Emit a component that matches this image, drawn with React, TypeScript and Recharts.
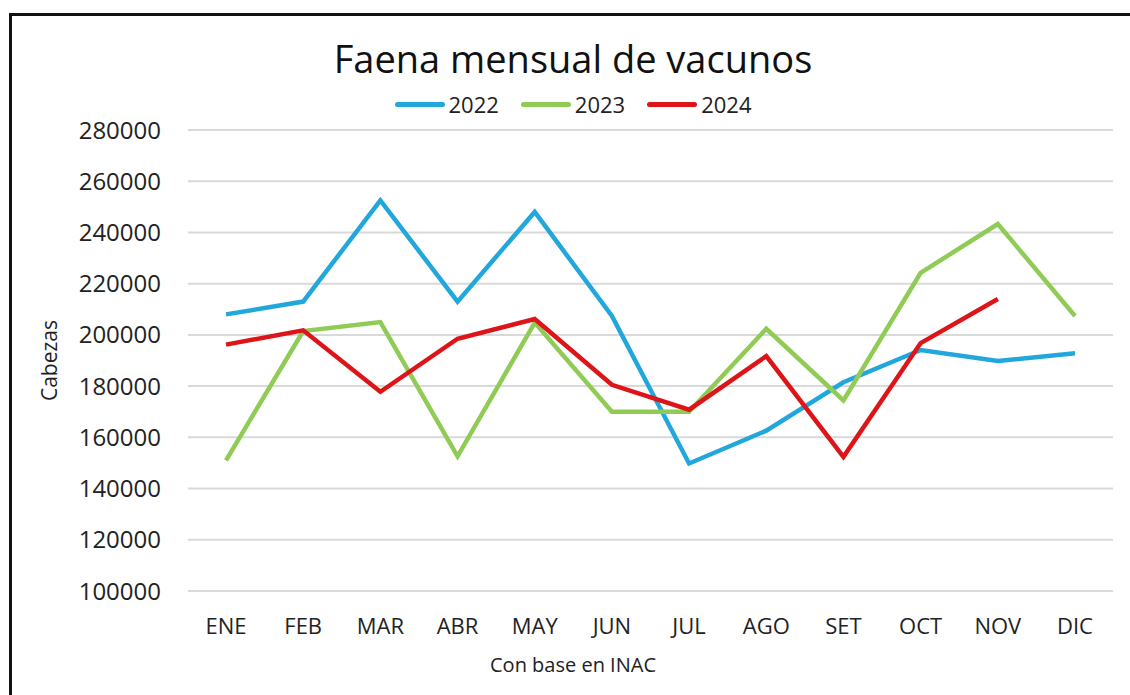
import { LineChart, Line, XAxis, YAxis, CartesianGrid } from "recharts";

const months = ["ENE", "FEB", "MAR", "ABR", "MAY", "JUN", "JUL", "AGO", "SET", "OCT", "NOV", "DIC"];
const y2022 = [208000, 213000, 252500, 213000, 248000, 207400, 149800, 162600, 181500, 194100, 189800, 192800];
const y2023 = [151000, 201500, 205000, 152600, 204800, 170000, 170000, 202400, 174400, 224200, 243300, 207400];
const y2024 = [196200, 201800, 177800, 198500, 206200, 180500, 170800, 191700, 152400, 196800, 214000, null];
const yTicks = [100000, 120000, 140000, 160000, 180000, 200000, 220000, 240000, 260000, 280000];

const data = months.map((m, i) => ({
  month: m,
  "2022": y2022[i],
  "2023": y2023[i],
  "2024": y2024[i],
}));

const FONT = "'Open Sans', 'Noto Sans', sans-serif";
const series = [
  { key: "2022", color: "#22a7dd" },
  { key: "2023", color: "#8fcb55" },
  { key: "2024", color: "#dd1418" },
];

function LegendRow() {
  return (
    <div
      style={{
        position: "absolute",
        left: 0,
        width: 1146,
        top: 89,
        display: "flex",
        justifyContent: "center",
        gap: 22,
        fontFamily: FONT,
        fontSize: 22,
        color: "#222",
      }}
    >
      {series.map((s) => (
        <div key={s.key} style={{ display: "flex", alignItems: "center" }}>
          <span style={{ display: "inline-block", width: 50, height: 5, borderRadius: 2.5, background: s.color, marginRight: 4 }} />
          <span>{s.key}</span>
        </div>
      ))}
    </div>
  );
}

export default function App() {
  return (
    <div style={{ position: "absolute", left: 0, top: 0, width: 1130, height: 695, background: "#fff", overflow: "hidden" }}>
      <div
        style={{
          position: "absolute",
          left: 9,
          top: 13,
          width: 1140,
          height: 700,
          borderTop: "3px solid #111",
          borderLeft: "3px solid #111",
        }}
      />
      <div
        style={{
          position: "absolute",
          left: 0,
          width: 1146,
          top: 32,
          textAlign: "center",
          fontFamily: FONT,
          fontSize: 38,
          color: "#111",
        }}
      >
        Faena mensual de vacunos
      </div>
      <LegendRow />
      <LineChart
        width={1130}
        height={695}
        data={data}
        margin={{ top: 130, right: 17, bottom: 74, left: 0 }}
        style={{ position: "absolute", left: 0, top: 0 }}
      >
        <CartesianGrid vertical={false} stroke="#d9d9d9" strokeWidth={2} />
        <XAxis
          dataKey="month"
          height={30}
          padding={{ left: 38, right: 38 }}
          axisLine={{ stroke: "#d9d9d9", strokeWidth: 2 }}
          tickLine={false}
          tickSize={0}
          tickMargin={27}
          tick={{ fontFamily: FONT, fontSize: 22, fill: "#222" }}
          interval={0}
        />
        <YAxis
          width={188}
          domain={[100000, 280000]}
          ticks={yTicks}
          axisLine={false}
          tickLine={false}
          tickSize={0}
          tickMargin={27}
          tick={{ fontFamily: FONT, fontSize: 24, fill: "#222" }}
          label={{
            value: "Cabezas",
            angle: -90,
            position: "insideLeft",
            offset: 50,
            style: { textAnchor: "middle", fontFamily: FONT, fontSize: 21, fill: "#222" },
          }}
        />
        {series.map((s) => (
          <Line
            key={s.key}
            dataKey={s.key}
            stroke={s.color}
            strokeWidth={4.5}
            dot={false}
            activeDot={false}
            isAnimationActive={false}
            strokeLinejoin="miter"
          />
        ))}
      </LineChart>
      <div
        style={{
          position: "absolute",
          left: 0,
          width: 1146,
          top: 651,
          textAlign: "center",
          fontFamily: FONT,
          fontSize: 20,
          color: "#222",
        }}
      >
        Con base en INAC
      </div>
    </div>
  );
}
